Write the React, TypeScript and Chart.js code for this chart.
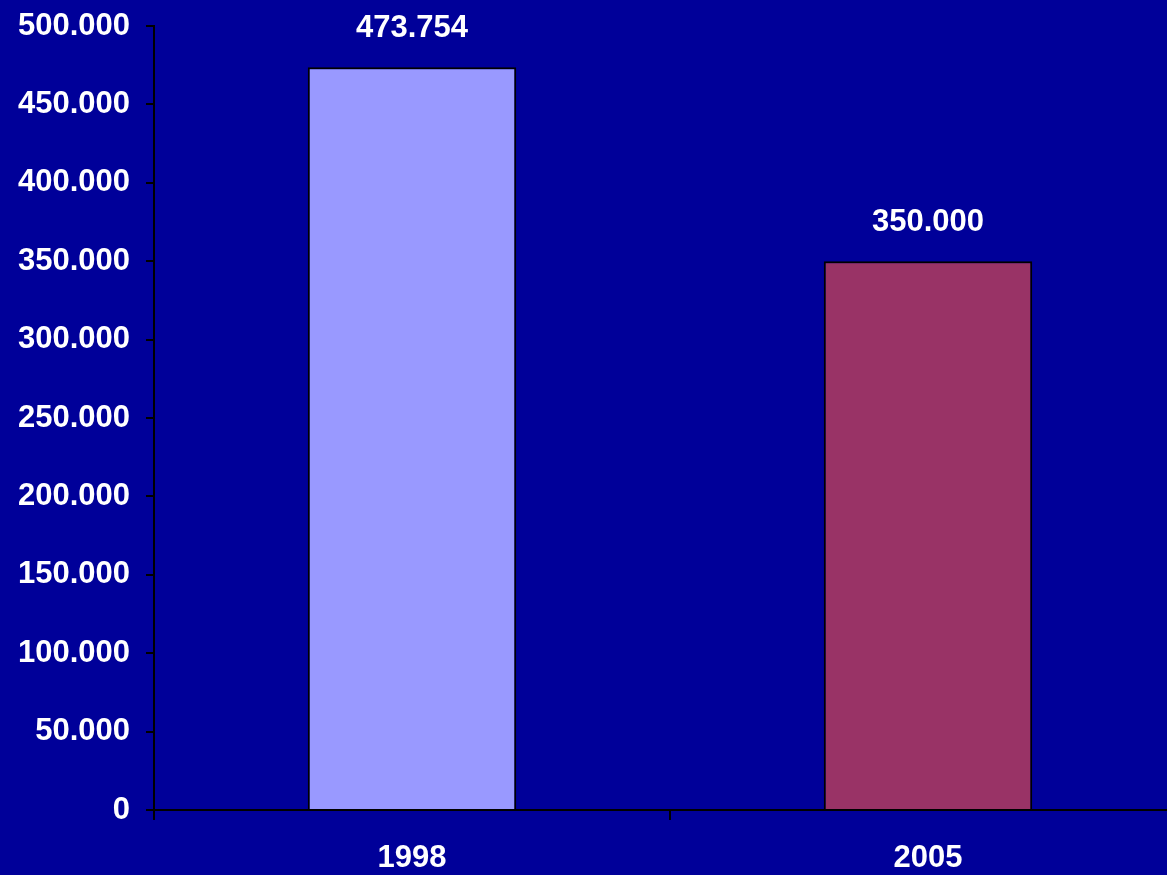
import React, { useEffect, useRef } from 'react';
import { Chart, registerables } from 'chart.js';

Chart.register(...registerables);

const years = ['1998', '2005'];
const values = [473754, 350000];
const barColors = ['#9999FF', '#993366'];
const yTicks = [0, 50000, 100000, 150000, 200000, 250000, 300000, 350000, 400000, 450000, 500000];

// 473754 -> "473.754"
const fmt = (v: number) => {
  if (v === 0) return '0';
  const s = Math.round(v).toString();
  return s.replace(/\B(?=(\d{3})+(?!\d))/g, '.');
};

const FONT = '"Liberation Sans", Arial, sans-serif';

const valueLabels = {
  id: 'valueLabels',
  afterDatasetsDraw(chart: any) {
    const ctx = chart.ctx;
    const meta = chart.getDatasetMeta(0);
    ctx.save();
    ctx.fillStyle = '#FFFFFF';
    ctx.font = `bold 31px ${FONT}`;
    ctx.textAlign = 'center';
    ctx.textBaseline = 'middle';
    meta.data.forEach((bar: any, i: number) => {
      ctx.fillText(fmt(values[i]), bar.x, bar.y - 39);
    });
    ctx.restore();
  },
};

const App = () => {
  const canvasRef = useRef<HTMLCanvasElement | null>(null);
  const chartRef = useRef<Chart | null>(null);

  useEffect(() => {
    const canvas = canvasRef.current;
    if (!canvas) return;
    const ctx = canvas.getContext('2d');
    if (!ctx) return;

    if (chartRef.current) chartRef.current.destroy();

    chartRef.current = new Chart(ctx, {
      type: 'bar',
      data: {
        labels: years,
        datasets: [
          {
            data: values,
            backgroundColor: barColors,
            borderColor: '#000000',
            borderWidth: 2,
            barPercentage: 0.404,
            categoryPercentage: 1,
          },
        ],
      },
      options: {
        animation: false,
        responsive: false,
        layout: { padding: { top: 26, right: 0, bottom: 0, left: 0 } },
        plugins: {
          legend: { display: false },
          tooltip: { enabled: false },
        },
        scales: {
          x: {
            grid: {
              display: true,
              drawOnChartArea: false,
              drawTicks: true,
              tickLength: 10,
              color: '#000000',
              lineWidth: 2,
            },
            border: { display: true, color: '#000000', width: 2 },
            ticks: {
              color: '#FFFFFF',
              font: { family: FONT, size: 31, weight: 'bold' },
              padding: 20,
            },
            afterFit: (scale: any) => {
              scale.height = 65;
              scale.paddingLeft = 0;
              scale.paddingRight = 0;
            },
          },
          y: {
            min: 0,
            max: 500000,
            afterBuildTicks: (scale: any) => {
              scale.ticks = yTicks.map((v) => ({ value: v }));
            },
            grid: {
              display: true,
              drawOnChartArea: false,
              drawTicks: true,
              tickLength: 8,
              color: '#000000',
              lineWidth: 2,
            },
            border: { display: true, color: '#000000', width: 2 },
            ticks: {
              color: '#FFFFFF',
              font: { family: FONT, size: 31, weight: 'bold' },
              padding: 16,
              callback: (v: any) => fmt(Number(v)),
            },
            afterFit: (scale: any) => {
              scale.width = 154;
              scale.paddingTop = 0;
              scale.paddingBottom = 0;
            },
          },
        },
      },
      plugins: [valueLabels],
    });

    return () => {
      if (chartRef.current) {
        chartRef.current.destroy();
        chartRef.current = null;
      }
    };
  }, []);

  return (
    <div
      style={{
        position: 'fixed',
        top: 0,
        left: 0,
        width: 1167,
        height: 875,
        overflow: 'hidden',
        background: '#000099',
      }}
    >
      <canvas ref={canvasRef} width={1186} height={875} style={{ display: 'block' }}></canvas>
    </div>
  );
};

export default App;
